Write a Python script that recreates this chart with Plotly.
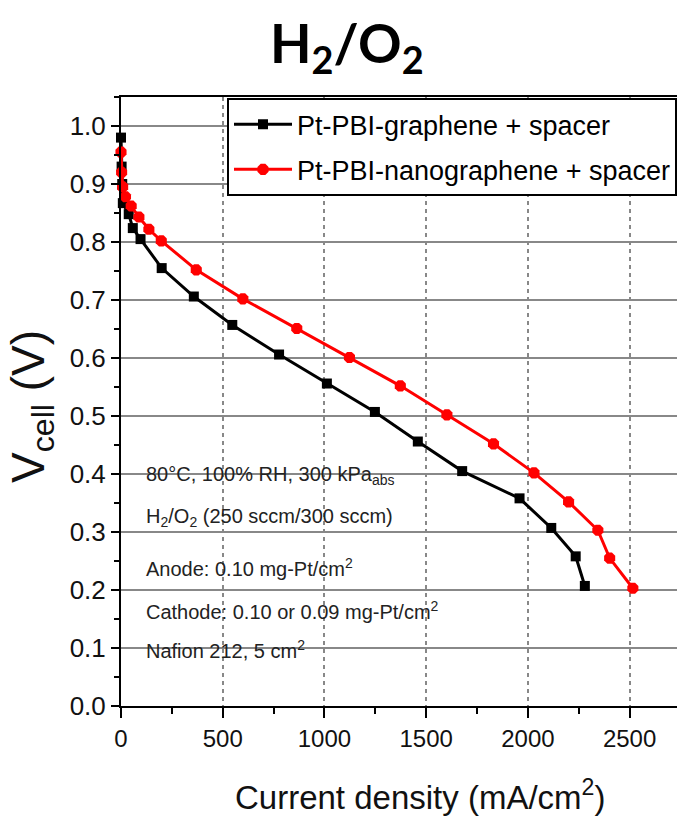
import plotly.graph_objects as go

# Pt-PBI-graphene + spacer (black squares)
black_x = [0, 3, 6, 9, 38, 58, 96, 200, 358, 547, 777, 1012, 1248, 1459, 1677, 1959, 2115, 2235, 2280]
black_y = [0.98, 0.93, 0.90, 0.867, 0.848, 0.824, 0.805, 0.755, 0.706, 0.657, 0.606, 0.556, 0.507, 0.456, 0.405, 0.358, 0.307, 0.258, 0.207]

# Pt-PBI-nanographene + spacer (red)
red_x = [0, 3, 8, 22, 50, 88, 137, 198, 370, 599, 864, 1123, 1373, 1602, 1831, 2030, 2200, 2344, 2402, 2516]
red_y = [0.955, 0.92, 0.895, 0.878, 0.862, 0.843, 0.822, 0.802, 0.752, 0.702, 0.651, 0.601, 0.552, 0.502, 0.452, 0.402, 0.352, 0.303, 0.255, 0.203]

series_names = ["Pt-PBI-graphene + spacer", "Pt-PBI-nanographene + spacer"]

x_ticks = [0, 500, 1000, 1500, 2000, 2500]
y_ticks = [0.0, 0.1, 0.2, 0.3, 0.4, 0.5, 0.6, 0.7, 0.8, 0.9, 1.0]

notes = [
    "80°C, 100% RH, 300 kPa<sub>abs</sub>",
    "H<sub>2</sub>/O<sub>2</sub> (250 sccm/300 sccm)",
    "Anode: 0.10 mg-Pt/cm<sup>2</sup>",
    "Cathode: 0.10 or 0.09 mg-Pt/cm<sup>2</sup>",
    "Nafion 212, 5 cm<sup>2</sup>",
]
note_y = [0.397, 0.325, 0.239, 0.164, 0.098]

FONT = "Liberation Sans, Arial, sans-serif"

fig = go.Figure()
fig.add_trace(go.Scatter(
    x=black_x, y=black_y, mode="lines+markers", name=series_names[0],
    line=dict(color="black", width=3),
    marker=dict(symbol="square", size=10, color="black"),
    cliponaxis=False, legendgroup="g1",
))
fig.add_trace(go.Scatter(
    x=red_x, y=red_y, mode="lines+markers", name=series_names[1],
    line=dict(color="#ff0000", width=3),
    marker=dict(symbol="octagon", size=12, color="#ff0000"),
    cliponaxis=False, legendgroup="g2",
))

annotations = []
for t, yv in zip(notes, note_y):
    annotations.append(dict(
        x=(144 - 121) / 556, xref="paper", y=yv, yref="y", text=t, showarrow=False,
        xanchor="left", yanchor="middle",
        font=dict(family=FONT, size=20, color="#222222"),
    ))
annotations.append(dict(
    x=(347 - 121) / 556, xref="paper", y=1 + (97 - 46) / 609, yref="paper",
    text="H<sub>2</sub>/O<sub>2</sub>",
    showarrow=False, xanchor="center", yanchor="middle",
    font=dict(family="Lato, Open Sans, sans-serif", size=54, color="black", weight="bold"),
))
annotations.append(dict(
    x=(420 - 121) / 556, xref="paper", y=-(795 - 706) / 609, yref="paper",
    text="Current density (mA/cm<sup>2</sup>)", showarrow=False,
    xanchor="center", yanchor="middle",
    font=dict(family=FONT, size=33, color="#111111"),
))
annotations.append(dict(
    x=-(121 - 31) / 556, xref="paper", y=(706 - 407) / 609, yref="paper",
    text="V<sub>cell</sub> (V)", showarrow=False, textangle=-90,
    xanchor="center", yanchor="middle",
    font=dict(family=FONT, size=46, color="#111111"),
))

fig.update_layout(
    width=677, height=818,
    margin=dict(l=121, r=0, t=97, b=112, pad=0),
    paper_bgcolor="white", plot_bgcolor="white",
    showlegend=True,
    legend=dict(
        x=(227 - 121) / 556, xanchor="left", y=0.998, yanchor="top",
        bordercolor="black", borderwidth=2, bgcolor="white",
        font=dict(family=FONT, size=27, color="black"),
        itemwidth=58, tracegroupgap=7,
    ),
    annotations=annotations,
    xaxis=dict(
        range=[0, 2733], tickvals=x_ticks, ticktext=[str(v) for v in x_ticks],
        showline=True, linecolor="black", linewidth=2, mirror=True,
        ticks="outside", ticklen=10, tickwidth=2, tickcolor="black",
        showgrid=True, gridcolor="#888888", gridwidth=1.5, griddash="4px,4px",
        zeroline=False,
        tickfont=dict(family=FONT, size=24, color="#111111"),
        minor=dict(ticks="outside", ticklen=6, tickwidth=2, tickcolor="black", dtick=250, showgrid=False),
    ),
    yaxis=dict(
        range=[0, 1.05], tickvals=y_ticks, ticktext=[f"{v:.1f}" for v in y_ticks],
        showline=True, linecolor="black", linewidth=2, mirror=False,
        ticks="outside", ticklen=8, tickwidth=2, tickcolor="black",
        showgrid=True, gridcolor="#888888", gridwidth=2,
        zeroline=False,
        tickfont=dict(family=FONT, size=26, color="#111111"),
        minor=dict(ticks="outside", ticklen=5, tickwidth=2, tickcolor="black", dtick=0.05, showgrid=False),
    ),
)

fig.write_html("out.html")
